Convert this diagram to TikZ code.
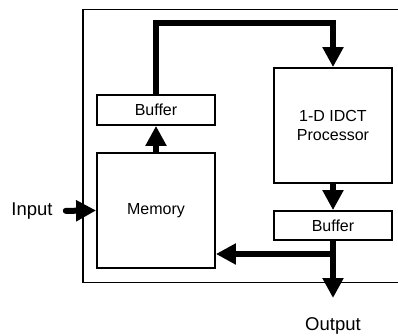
\documentclass[tikz,border=0pt]{standalone}
\usepackage{fontspec}
\setmainfont{Liberation Sans}
\usetikzlibrary{arrows.meta}
\begin{document}
\begin{tikzpicture}[x=1pt,y=-1pt,
  blk/.style={draw, line width=1.8pt, inner sep=0pt, font=\fontsize{16}{18.5}\selectfont, align=center},
  lbl/.style={inner sep=0pt, font=\fontsize{18.5}{20}\selectfont},
  bigarrow/.style={line width=5.5pt, line join=miter, -{Triangle[width=20pt,length=20pt]}},
  frame/.style={line width=1.2pt}]
\useasboundingbox (0,0) rectangle (398,336);
\draw[frame] (398,9.5) -- (83,9.5) -- (83,282.5) -- (398,282.5);
\node[blk, minimum width=118pt, minimum height=30pt] (buf1) at (156,110) {Buffer};
\node[blk, minimum width=118pt, minimum height=115pt] (mem) at (156,210.5) {Memory};
\node[blk, minimum width=118pt, minimum height=115pt] (proc) at (333,125.5) {1-D IDCT\\Processor};
\node[blk, minimum width=118pt, minimum height=29pt] (buf2) at (333,225.5) {Buffer};
\node[lbl] (input) at (32,211) {Input};
\node[lbl] (output) at (333,326) {Output};
\coordinate (topr) at (333,23);
\coordinate (br) at (333,254);
\coordinate (outend) at (333,298);
\draw[bigarrow] (buf1.north) |- (topr) -- (proc.north);
\draw[bigarrow] (mem.north) -- (buf1.south);
\draw[bigarrow] (proc.south) -- (buf2.north);
\draw[bigarrow] (buf2.south) -- (outend);
\draw[bigarrow] (br) -- (br -| mem.east);
\draw[bigarrow, line width=6pt, line cap=round, shorten <=13pt] (input.east) -- (mem.west);
\end{tikzpicture}
\end{document}
